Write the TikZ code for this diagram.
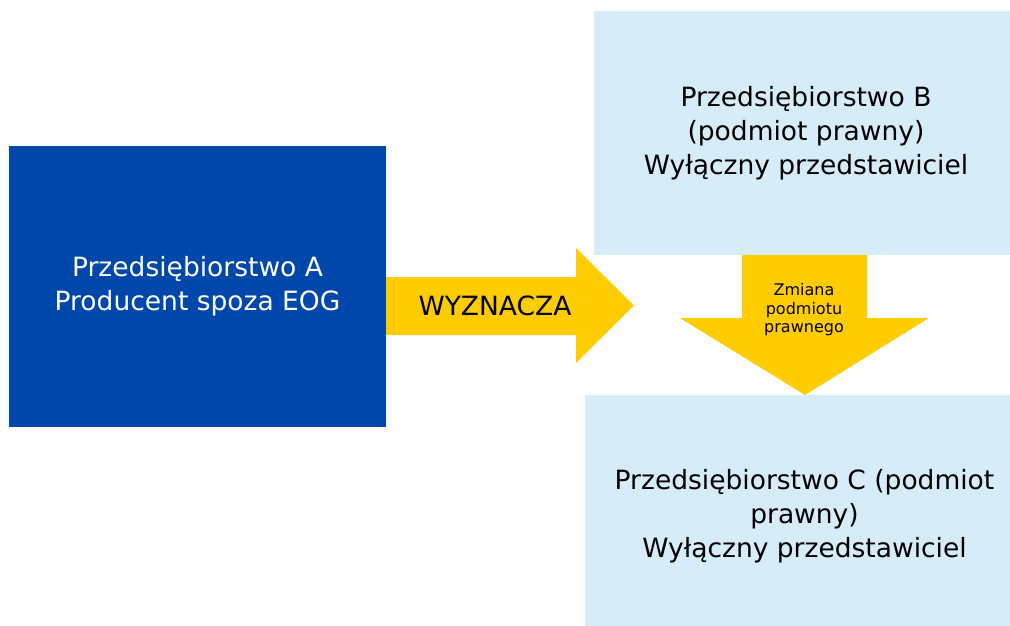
\documentclass[tikz,border=0pt]{standalone}
\usepackage{fontspec}
\setmainfont{DejaVu Sans}
\definecolor{dblue}{RGB}{0,71,171}
\definecolor{lblue}{RGB}{214,236,248}
\definecolor{gold}{RGB}{255,204,0}
\begin{document}
\begin{tikzpicture}[x=1pt,y=-1pt,
  box/.style={inner sep=0pt, outer sep=0pt, align=center, font=\fontsize{26.5}{34}\selectfont},
  bigtext/.style={inner sep=0pt, align=center, font=\fontsize{26.5}{34}\selectfont},
  smalltext/.style={inner sep=0pt, align=center, font=\fontsize{16}{18.5}\selectfont},
  blockarrow/.style={fill=gold, draw=none}]
\useasboundingbox (0,0) rectangle (1010,626);
% boxes
\node[box, fill=dblue, text=white, minimum width=377pt, minimum height=281pt] (A) at (197.5,286.5)
  {Przedsiębiorstwo A\\Producent spoza EOG};
\node[box, fill=lblue, text=black, minimum width=424pt, minimum height=244pt] (B) at (806,133)
  {Przedsiębiorstwo B\\(podmiot prawny)\\Wyłączny przedstawiciel};
\node[box, fill=lblue, text=black, minimum width=439pt, minimum height=242pt] (C) at (804.5,516)
  {Przedsiębiorstwo C (podmiot\\prawny)\\Wyłączny przedstawiciel};
% right block arrow A -> B/C
\coordinate (r0) at (A.east |- 0,277);
\fill[blockarrow] (r0) -- (576,277) -- (576,248) -- (634,305.5) -- (576,363) -- (576,335) -- (r0 |- 0,335) -- cycle;
\node[bigtext] (wyz) at (495,306) {WYZNACZA};
% down block arrow B -> C
\coordinate (d0) at (742,0 |- B.south);
\coordinate (d1) at (867,0 |- B.south);
\coordinate (dt) at (805,0 |- C.north);
\fill[blockarrow] (d0) -- (742,318) -- (680,318) -- (dt) -- (929,318) -- (867,318) -- (d1) -- cycle;
\node[smalltext] (zm) at (804,310) {Zmiana\\podmiotu\\prawnego};
\end{tikzpicture}
\end{document}
